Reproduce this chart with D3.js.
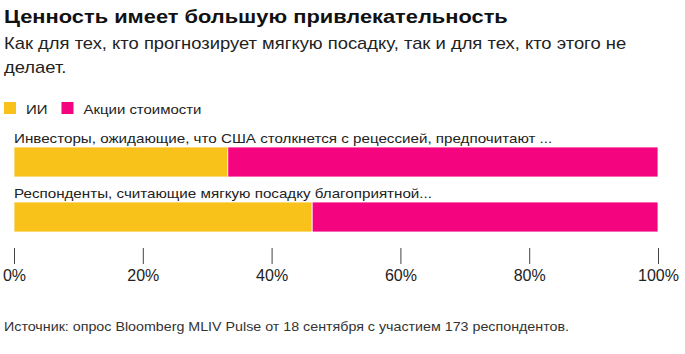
<!DOCTYPE html>
<html>
<head>
<meta charset="utf-8">
<script src="https://cdn.jsdelivr.net/npm/d3@7"></script>
<style>
  body { margin: 0; background: #fff; font-family: "Liberation Sans", Arial, sans-serif; }
  text { font-family: "Liberation Sans", Arial, sans-serif; }
</style>
</head>
<body>
<div id="chart"></div>
<script>
// данные
const categories = [
  "Инвесторы, ожидающие, что США столкнется с рецессией, предпочитают ...",
  "Респонденты, считающие мягкую посадку благоприятной..."
];
const seriesNames = ["ИИ", "Акции стоимости"];
const aiValues = [33.2, 46.3];
const valueStockValues = [66.8, 53.7];
const tickValues = [0, 20, 40, 60, 80, 100];
const colors = ["#f8c21b", "#f5047f"];

const W = 685, H = 354;
const SX = 1.15; // шрифт в оригинале шире, чем Liberation Sans
const svg = d3.select("#chart").append("svg").attr("width", W).attr("height", H);

// текст с горизонтальным растяжением
function label(parent, x, y, txt, size, opts = {}) {
  return parent.append("text")
    .attr("transform", `translate(${x},${y}) scale(${SX},1)`)
    .style("font-size", size + "px")
    .style("font-weight", opts.bold ? "bold" : "normal")
    .style("fill", opts.fill || "#222")
    .text(txt);
}

// заголовки
label(svg, 4, 23, "Ценность имеет большую привлекательность", 19, { bold: true, fill: "#111" });
["Как для тех, кто прогнозирует мягкую посадку, так и для тех, кто этого не", "делает."]
  .forEach((t, i) => label(svg, 4, 49 + i * 24, t, 16));

// легенда
let lx = 4;
seriesNames.forEach((name, i) => {
  svg.append("rect").attr("x", lx).attr("y", 102).attr("width", 12).attr("height", 12).attr("fill", colors[i]);
  const t = label(svg, lx + 22, 114, name, 13);
  lx += 22 + t.node().getComputedTextLength() * SX + 14;
});

// шкалы
const x = d3.scaleLinear().domain([0, 100]).range([14, 658]);
const y = d3.scaleBand().domain(categories).range([122, 232]);
const barH = 30;

const stacked = d3.stack().keys([0, 1]).value((d, k) => d[k])(categories.map((c, i) => [aiValues[i], valueStockValues[i]]));

categories.forEach(c => label(svg, 14, y(c) + y.bandwidth() - barH - 4, c, 13.2));

stacked.forEach((layer, j) => {
  svg.append("g").selectAll("rect")
    .data(layer)
    .join("rect")
    .attr("x", d => x(d[0]))
    .attr("y", (d, i) => y(categories[i]) + y.bandwidth() - barH)
    .attr("width", d => x(d[1]) - x(d[0]))
    .attr("height", barH)
    .attr("fill", colors[j])
    .attr("stroke", "#fff").attr("stroke-width", 0.8);
});

// ось
const axis = svg.append("g").attr("transform", "translate(0,248)")
  .call(d3.axisBottom(x).tickValues(tickValues).tickSize(16).tickPadding(6).tickFormat(d => d + "%"));
axis.select(".domain").remove();
axis.selectAll(".tick line").attr("stroke", "#444");
axis.selectAll(".tick text")
  .attr("dy", "0.71em")
  .style("font-family", "Liberation Sans, Arial, sans-serif")
  .style("font-size", "16px").style("fill", "#222");

// источник
label(svg, 4, 331, "Источник: опрос Bloomberg MLIV Pulse от 18 сентября с участием 173 респондентов.", 12.4, { fill: "#333" });
</script>
</body>
</html>
